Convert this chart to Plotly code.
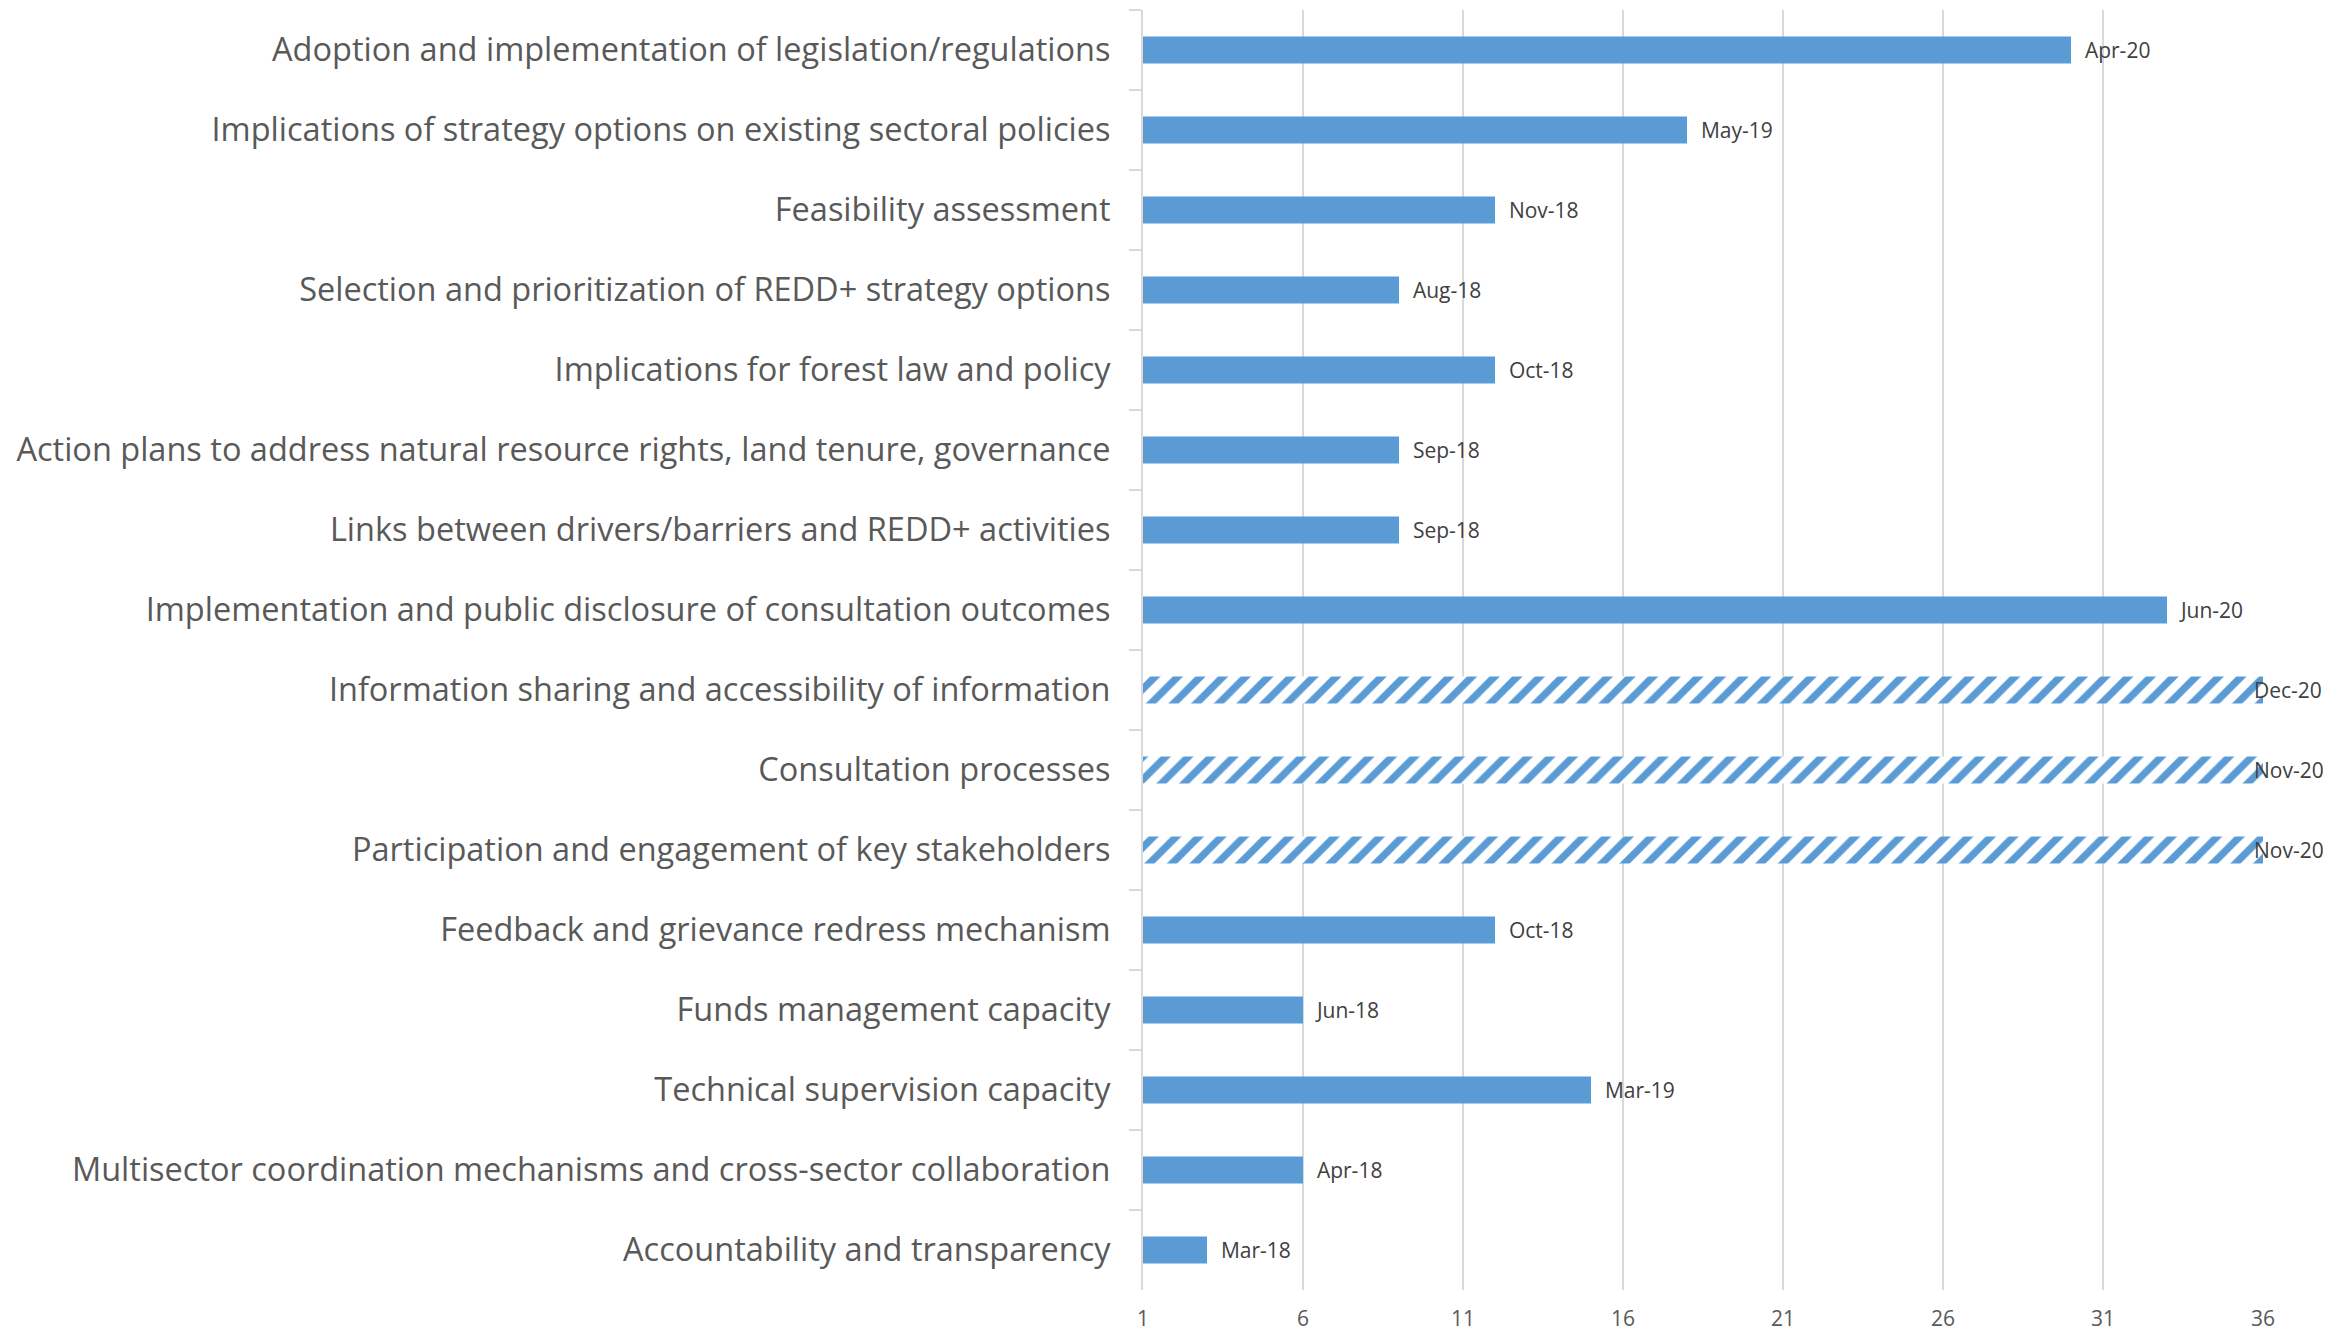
import plotly.graph_objects as go

categories = [
    "Adoption and implementation of legislation/regulations",
    "Implications of strategy options on existing sectoral policies",
    "Feasibility assessment",
    "Selection and prioritization of REDD+ strategy options",
    "Implications for forest law and policy",
    "Action plans to address natural resource rights, land tenure, governance",
    "Links between drivers/barriers and REDD+ activities",
    "Implementation and public disclosure of consultation outcomes",
    "Information sharing and accessibility of information",
    "Consultation processes",
    "Participation and engagement of key stakeholders",
    "Feedback and grievance redress mechanism",
    "Funds management capacity",
    "Technical supervision capacity",
    "Multisector coordination mechanisms and cross-sector collaboration",
    "Accountability and transparency",
]
values = [30, 18, 12, 9, 12, 9, 9, 33, 36, 36, 36, 12, 6, 15, 6, 3]
date_labels = ["Apr-20", "May-19", "Nov-18", "Aug-18", "Oct-18", "Sep-18", "Sep-18", "Jun-20",
               "Dec-20", "Nov-20", "Nov-20", "Oct-18", "Jun-18", "Mar-19", "Apr-18", "Mar-18"]
hatched = [False] * 8 + [True] * 3 + [False] * 5
tick_vals = [1, 6, 11, 16, 21, 26, 31, 36]

BLUE = "#5B9BD5"
BASE = 1
LABEL_FONT = dict(family="Open Sans", size=21, color="#404040")

solid_y = [c for c, h in zip(categories, hatched) if not h]
solid_x = [v - BASE for v, h in zip(values, hatched) if not h]
solid_t = [t for t, h in zip(date_labels, hatched) if not h]
hat_y = [c for c, h in zip(categories, hatched) if h]
hat_v = [v for v, h in zip(values, hatched) if h]
hat_t = [t for t, h in zip(date_labels, hatched) if h]

fig = go.Figure()
fig.add_trace(go.Bar(
    y=solid_y, x=solid_x, base=BASE, orientation="h",
    marker=dict(color=BLUE, line=dict(width=0)),
    text=solid_t, texttemplate="  %{text}", textposition="outside",
    textfont=LABEL_FONT,
    cliponaxis=False, constraintext="none", width=0.34,
))
fig.add_trace(go.Bar(
    y=hat_y, x=[v - BASE for v in hat_v], base=BASE, orientation="h",
    marker=dict(color="white", line=dict(width=0),
                pattern=dict(shape="/", fgcolor=BLUE, bgcolor="white", size=16,
                             solidity=0.45, fgopacity=1)),
    width=0.34,
))
for y, v, t in zip(hat_y, hat_v, hat_t):
    fig.add_annotation(x=v, y=y, xref="x", yref="y", text=t, showarrow=False,
                       xanchor="left", xshift=-11, font=LABEL_FONT)

fig.update_layout(
    width=2323, height=1325,
    margin=dict(l=1135, r=68, t=2, b=43, autoexpand=False),
    paper_bgcolor="white", plot_bgcolor="white",
    barmode="overlay", showlegend=False,
    font=dict(family="Open Sans", color="#595959"),
)
fig.update_xaxes(
    range=[1, 36], tickvals=tick_vals, showgrid=True, gridcolor="#D9D9D9", gridwidth=2,
    zeroline=False, showline=False, ticks="", ticklabelstandoff=14,
    tickfont=dict(family="Open Sans", size=21, color="#595959"),
)
fig.update_yaxes(
    categoryorder="array", categoryarray=categories, autorange="reversed",
    showline=True, linecolor="#D9D9D9", linewidth=2,
    ticks="outside", tickson="boundaries", ticklen=12, tickcolor="#D9D9D9", tickwidth=2,
    ticklabelstandoff=24,
    tickfont=dict(family="Open Sans", size=32.5, color="#595959"),
    showgrid=False, zeroline=False,
)

fig.write_html("out.html")
